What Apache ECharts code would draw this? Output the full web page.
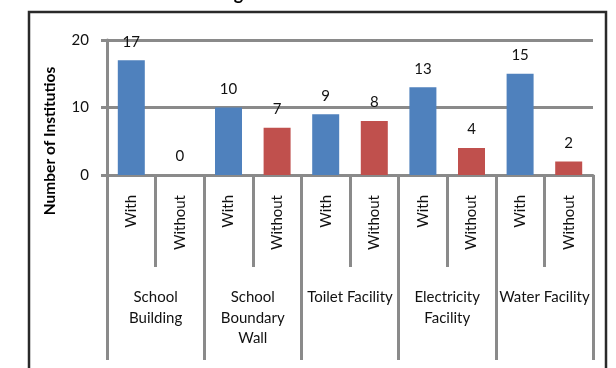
<!DOCTYPE html>
<html>
<head>
<meta charset="utf-8">
<script src="https://cdn.jsdelivr.net/npm/echarts@6/dist/echarts.min.js"></script>
<style>
html,body{margin:0;padding:0;background:#fff;}
#c{width:616px;height:368px;}
</style>
</head>
<body>
<div id="c"></div>
<script>
// ---- data ----
const subCategories = ['With','Without','With','Without','With','Without','With','Without','With','Without'];
const groups = ['School\nBuilding','School\nBoundary\nWall','Toilet Facility','Electricity\nFacility','Water Facility'];
const counts = [17,0,10,7,9,8,13,4,15,2];
const yTickValues = [0,10,20];
const titleText = 'Building Facilities in Institutions';
const yAxisTitle = 'Number of Institutios';

const FONT = 'Lato, "Open Sans", sans-serif';
const GRAY = '#8a8a8a';
const TXT = '#111';
const colorFor = { 'With': '#4F81BD', 'Without': '#C0504D' };

const chart = echarts.init(document.getElementById('c'), null, {renderer:'canvas'});
chart.setOption({
  animation: false,
  textStyle: { fontFamily: FONT },
  grid: { left: 107, right: 23, top: 40, bottom: 193 },
  xAxis: [
    {
      type: 'category',
      data: subCategories,
      axisLine: { show: true, lineStyle: { color: GRAY, width: 3 } },
      axisTick: { show: true, interval: 0, length: 92, lineStyle: { color: GRAY, width: 3 } },
      axisLabel: { interval: 0, rotate: 90, margin: 20, fontSize: 15, color: TXT, fontFamily: FONT }
    },
    {
      type: 'category',
      position: 'bottom',
      data: groups,
      axisLine: { show: false },
      axisTick: { show: true, interval: 0, length: 185, lineStyle: { color: GRAY, width: 3 } },
      axisLabel: { interval: 0, margin: 112, fontSize: 15, lineHeight: 20.5, color: TXT, fontFamily: FONT, verticalAlign: 'top' }
    }
  ],
  yAxis: {
    type: 'value',
    min: yTickValues[0],
    max: yTickValues[yTickValues.length - 1],
    interval: yTickValues[1] - yTickValues[0],
    axisLine: { show: true, lineStyle: { color: GRAY, width: 3 } },
    axisTick: { show: true, length: 6, lineStyle: { color: GRAY, width: 3 } },
    splitLine: { show: true, lineStyle: { color: GRAY, width: 3 } },
    axisLabel: { margin: 18, fontSize: 15, color: TXT, fontFamily: FONT }
  },
  series: [{
    type: 'bar',
    xAxisIndex: 0,
    barWidth: 27,
    data: counts.map((v, i) => ({ value: v, itemStyle: { color: colorFor[subCategories[i]] } })),
    label: { show: true, position: 'top', distance: 11, fontSize: 15, color: TXT, fontFamily: FONT }
  }],
  graphic: [
    {
      type: 'rect', silent: true, z: 0,
      shape: { x: 29, y: 12, width: 577, height: 420 },
      style: { fill: 'none', stroke: '#2a2a2a', lineWidth: 2.5 }
    },
    {
      type: 'text', silent: true,
      x: 305, y: 3,
      style: { text: titleText, font: 'bold 18px ' + FONT, fill: '#000', textAlign: 'center', textVerticalAlign: 'bottom' }
    },
    {
      type: 'text', silent: true,
      x: 50, y: 141, rotation: Math.PI / 2,
      style: { text: yAxisTitle, font: 'bold 15.5px ' + FONT, fill: '#000', textAlign: 'center', textVerticalAlign: 'middle' }
    }
  ]
});
</script>
</body>
</html>
